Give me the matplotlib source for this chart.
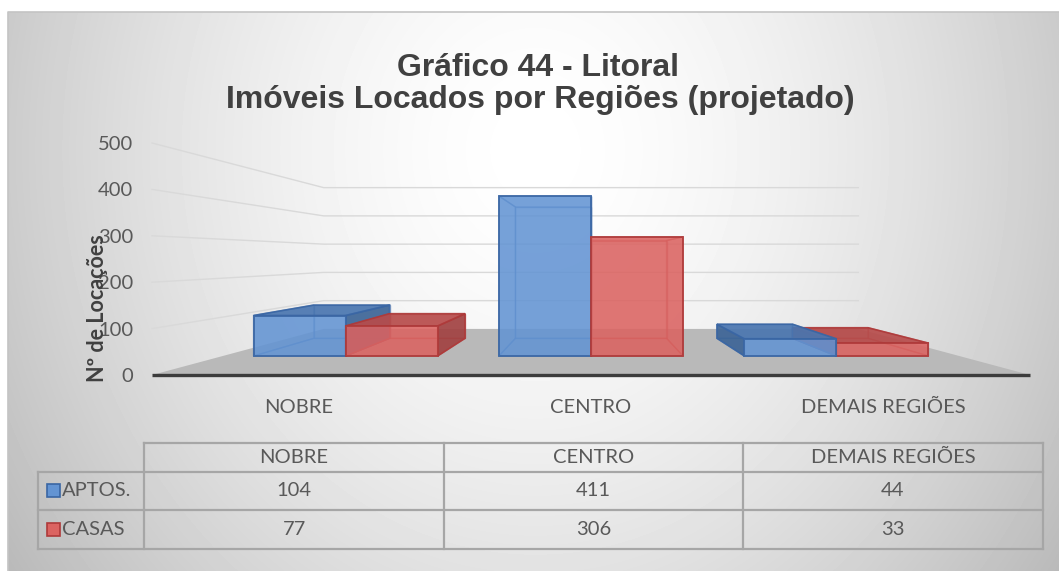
import numpy as np
import matplotlib
matplotlib.use("Agg")
import matplotlib.pyplot as plt
from matplotlib.patches import Polygon, Rectangle

plt.rcParams["font.family"] = ["Lato", "DejaVu Sans"]

# ------------------------------------------------------------
# dados
# ------------------------------------------------------------
categorias = ["NOBRE", "CENTRO", "DEMAIS REGIÕES"]
series = ["APTOS.", "CASAS"]
aptos = [104, 411, 44]
casas = [77, 306, 33]
yticks = [0, 100, 200, 300, 400, 500]

titulo_1 = "Gráfico 44 - Litoral"
titulo_2 = "Imóveis Locados por Regiões (projetado)"
eixo_y = "Nº de Locações"

cores = {
    "APTOS.": dict(front="#6394d3", top="#4a76b0", side="#3d6597", edge="#3a66a4"),
    "CASAS": dict(front="#db6361", top="#b74c4b", side="#a24242", edge="#ae3a3a"),
}

W, H = 1059, 571
fig = plt.figure(figsize=(W / 100, H / 100), dpi=100)

# ------------------------------------------------------------
# fundo (coordenadas em pixels)
# ------------------------------------------------------------
bg = fig.add_axes([0, 0, 1, 1])
bg.set_xlim(0, W)
bg.set_ylim(H, 0)
bg.axis("off")

xx, yy = np.meshgrid(np.arange(W), np.arange(H))
d = np.sqrt(((xx - 535) / 560) ** 2 + ((yy - 150) / 640) ** 2)
shade = np.clip(1 - 0.22 * d ** 1.6, 0, 1)
shade[:12, :] = 1
shade[:, :8] = 1
bg.imshow(shade, cmap="gray", vmin=0, vmax=1, extent=(0, W, H, 0),
          interpolation="bilinear", aspect="auto")
bg.plot([8, 8, W], [H, 12, 12], color="#c4c4c4", lw=1.2)

bg.text(538, 76, titulo_1, ha="center", va="baseline", fontsize=23,
        fontweight="bold", color="#404040", family=["Liberation Sans", "DejaVu Sans"])
bg.text(540, 108, titulo_2, ha="center", va="baseline", fontsize=23,
        fontweight="bold", color="#404040", family=["Liberation Sans", "DejaVu Sans"])

# ------------------------------------------------------------
# area do grafico: plano frontal em coordenadas de dados
# ------------------------------------------------------------
ax = fig.add_axes([152 / W, (H - 375) / H, 878 / W, 232 / H])
ax.set_xlim(0, 3)
ax.set_ylim(0, 500)
ax.patch.set_alpha(0)
for s in ax.spines.values():
    s.set_visible(False)

VP = (1.5, 254.0)   # ponto de fuga
DEPTH = 0.642


def proj(c, v, z):
    k = 1.0 / (1.0 + DEPTH * z)
    return VP[0] + (c - VP[0]) * k, VP[1] + (v - VP[1]) * k


def poly(pts, **kw):
    xy = [proj(*p) for p in pts]
    ax.add_patch(Polygon(xy, closed=True, clip_on=False, **kw))


# piso
ncat = len(categorias)
poly([(0, 0, 0), (ncat, 0, 0), (ncat, 0, 1), (0, 0, 1)],
     facecolor="#b9b9b9", edgecolor="none", zorder=1)

# linhas de grade (parede lateral e fundo)
for v in yticks[1:]:
    p0, p1, p2 = proj(0, v, 0), proj(0, v, 1), proj(ncat, v, 1)
    ax.plot([p0[0], p1[0], p2[0]], [p0[1], p1[1], p2[1]],
            color="#d9d9d9", lw=1.0, zorder=0.5, clip_on=False)

f0, f1 = proj(0, 0, 0), proj(ncat, 0, 0)
ax.plot([f0[0], f1[0]], [f0[1], f1[1]], color="#3c3c3c", lw=2.4,
        zorder=2, clip_on=False, solid_capstyle="butt")

# barras
BAR_W = 0.375
Z0, Z1 = 0.30, 0.705
barras = []
for i in range(ncat):
    for j, (nome, vals) in enumerate(zip(series, [aptos, casas])):
        x0 = i + 0.5 - BAR_W + j * BAR_W
        barras.append((x0, x0 + BAR_W, vals[i], nome))
barras.sort(key=lambda b: -abs((b[0] + b[1]) / 2 - VP[0]))

zb = 3
for x0, x1, h, nome in barras:
    c = cores[nome]
    faces = {
        "back": [(x0, 0, Z1), (x1, 0, Z1), (x1, h, Z1), (x0, h, Z1)],
        "bottom": [(x0, 0, Z0), (x1, 0, Z0), (x1, 0, Z1), (x0, 0, Z1)],
        "left": [(x0, 0, Z0), (x0, 0, Z1), (x0, h, Z1), (x0, h, Z0)],
        "right": [(x1, 0, Z0), (x1, 0, Z1), (x1, h, Z1), (x1, h, Z0)],
        "top": [(x0, h, Z0), (x1, h, Z0), (x1, h, Z1), (x0, h, Z1)],
        "front": [(x0, 0, Z0), (x1, 0, Z0), (x1, h, Z0), (x0, h, Z0)],
    }
    visivel = {
        "back": False, "bottom": False,
        "left": x0 > VP[0], "right": x1 < VP[0],
        "top": h < VP[1], "front": True,
    }
    # arestas escondidas (vistas pela transparencia)
    for nome_f in ["back", "bottom", "left", "right", "top"]:
        if not visivel[nome_f]:
            poly(faces[nome_f], facecolor="none", edgecolor=c["edge"],
                 lw=1.0, alpha=0.55, zorder=zb)
    zb += 0.1
    for nome_f, cor in [("left", c["side"]), ("right", c["side"]), ("top", c["top"])]:
        if visivel[nome_f]:
            poly(faces[nome_f], facecolor=cor, edgecolor=c["edge"], lw=1.2,
                 alpha=0.92, zorder=zb)
    zb += 0.1
    poly(faces["front"], facecolor=c["front"], edgecolor=c["edge"], lw=1.4,
         alpha=0.88, zorder=zb)
    zb += 0.1

# eixos
ax.set_yticks(yticks)
ax.tick_params(axis="y", length=0, pad=13.5, labelsize=14.5, labelcolor="#595959")
ax.set_xticks([i + 0.5 for i in range(ncat)], categorias)
ax.tick_params(axis="x", length=0, pad=17, labelsize=14.5, labelcolor="#595959")
ax.text(-0.0625, 0.289, eixo_y, transform=ax.transAxes, rotation=90,
        ha="center", va="center", fontsize=15.5, fontweight="bold", color="#404040")

# ------------------------------------------------------------
# tabela de dados
# ------------------------------------------------------------
cols = [144, 444, 743, 1043]
y_head, y_r1, y_r2, y_end = 442.7, 471.7, 510.0, 548.5
lc = dict(color="#a6a6a6", lw=1.6)
bg.plot([cols[0], cols[-1]], [y_head, y_head], **lc)
for y in [y_r1, y_r2, y_end]:
    bg.plot([38, cols[-1]], [y, y], **lc)
for x in cols:
    bg.plot([x, x], [y_head, y_end], **lc)
bg.plot([38, 38], [y_r1, y_end], **lc)

centros = [(cols[k] + cols[k + 1]) / 2 for k in range(3)]
tkw = dict(ha="center", va="center", fontsize=14.5, color="#595959")
for k, cat in enumerate(categorias):
    bg.text(centros[k], (y_head + y_r1) / 2, cat, **tkw)
    bg.text(centros[k], (y_r1 + y_r2) / 2, str(aptos[k]), **tkw)
    bg.text(centros[k], (y_r2 + y_end) / 2, str(casas[k]), **tkw)

for nome, (ya, yb) in zip(series, [(y_r1, y_r2), (y_r2, y_end)]):
    ym = (ya + yb) / 2
    bg.add_patch(Rectangle((47, ym - 6.5), 13, 13, facecolor=cores[nome]["front"],
                           edgecolor=cores[nome]["edge"], lw=1.2))
    bg.text(62, ym, nome, ha="left", va="center", fontsize=14.5, color="#595959")

fig.savefig("out.png", dpi=100)
